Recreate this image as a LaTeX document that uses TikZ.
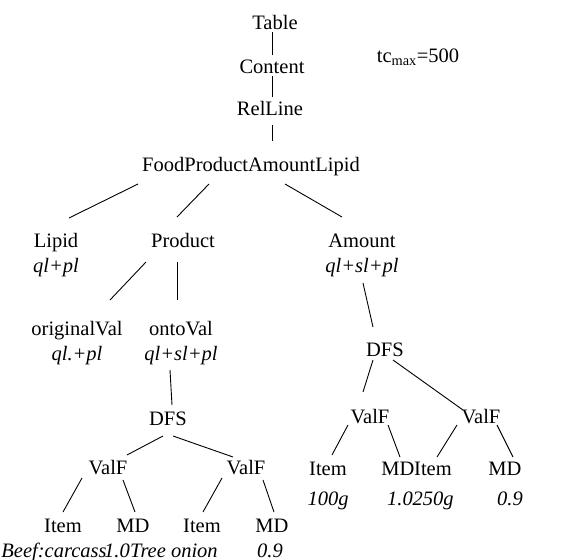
\documentclass[tikz,border=0pt]{standalone}
\usepackage{fontspec}
\setmainfont{Liberation Serif}
\usepackage{tikz}

\tikzset{
    lbl/.style={inner sep=0pt, anchor=base, font=\fontsize{20.5}{24}\selectfont},
    ann/.style={lbl, font=\fontsize{20.5}{24}\selectfont\itshape},
    edge/.style={line width=0.9pt}
}

\begin{document}
\begin{tikzpicture}[x=1pt,y=-1pt]
    \useasboundingbox (0,0) rectangle (582,560);
    % upper part of the tree
    \node[lbl] (table) at (275,29) {Table};
    \node[lbl] (content) at (272,73) {Content};
    \node[lbl] (relline) at (270,115) {RelLine};
    \node[lbl] (tc) at (418,62) {tc\textsubscript{max}=500};
    \node[lbl] (fpal) at (251,171) {FoodProductAmountLipid};
    \node[lbl] (lipid) at (56,247) {Lipid};
    \node[ann] (lipidq) at (56,272) {ql+pl};
    \node[lbl] (product) at (183,247) {Product};
    \node[lbl] (amount) at (362,247) {Amount};
    \node[ann] (amountq) at (362,272) {ql+sl+pl};
    \node[lbl] (orig) at (77,335) {originalVal};
    \node[ann] (origq) at (77,360) {ql.+pl};
    \node[lbl] (onto) at (181,335) {ontoVal};
    \node[ann] (ontoq) at (181,360) {ql+sl+pl};

    \draw[edge] ([shift={(-3,3)}]table.base) -- ([shift={(0,-18)}]content.base);
    \draw[edge] ([shift={(0,3)}]content.base) -- ([shift={(2,-18)}]relline.base);
    \draw[edge] ([shift={(2,10)}]relline.base) -- ([shift={(21,-30)}]fpal.base);
    \draw[edge] ([shift={(-113,13)}]fpal.base) -- ([shift={(13,-29)}]lipid.base);
    \draw[edge] ([shift={(-42,13)}]fpal.base) -- ([shift={(-6,-30)}]product.base);
    \draw[edge] ([shift={(34,13)}]fpal.base) -- ([shift={(-20,-30)}]amount.base);
    \draw[edge] ([shift={(-37,15)}]product.base) -- ([shift={(33,-35)}]orig.base);
    \draw[edge] ([shift={(-6,15)}]product.base) -- ([shift={(-4,-35)}]onto.base);

    % left subtree (ontoVal)
    \node[lbl] (dfsL) at (168,425) {DFS};
    \node[lbl] (valL1) at (108,474) {ValF};
    \node[lbl] (valL2) at (246,474) {ValF};
    \node[lbl] (itemL1) at (63,532) {Item};
    \node[lbl] (mdL1) at (133,532) {MD};
    \node[lbl] (itemL2) at (202,532) {Item};
    \node[lbl] (mdL2) at (272,532) {MD};
    \node[ann] (beef) at (54,557) {Beef:carcass};
    \node[ann] (wL1) at (117,557) {1.0};
    \node[ann] (onion) at (174,557) {Tree onion};
    \node[ann] (wL2) at (270,557) {0.9};

    \draw[edge] ([shift={(-11,10)}]ontoq.base) -- ([shift={(4,-20)}]dfsL.base);
    \draw[edge] ([shift={(-5,11)}]dfsL.base) -- ([shift={(19,-19)}]valL1.base);
    \draw[edge] ([shift={(5,11)}]dfsL.base) -- ([shift={(-13,-17)}]valL2.base);
    \draw[edge] ([shift={(-26,4)}]valL1.base) -- ([shift={(0,-20)}]itemL1.base);
    \draw[edge] ([shift={(15,6)}]valL1.base) -- ([shift={(2,-20)}]mdL1.base);
    \draw[edge] ([shift={(-24,4)}]valL2.base) -- ([shift={(1,-20)}]itemL2.base);
    \draw[edge] ([shift={(17,6)}]valL2.base) -- ([shift={(2,-20)}]mdL2.base);

    % right subtree (Amount)
    \node[lbl] (dfsR) at (385,356) {DFS};
    \node[lbl] (valR1) at (370,423) {ValF};
    \node[lbl] (valR2) at (481,423) {ValF};
    \node[lbl] (itemR1) at (328,475) {Item};
    \node[lbl] (mdR1) at (398,475) {MD};
    \node[lbl] (itemR2) at (433,475) {Item};
    \node[lbl] (mdR2) at (505,475) {MD};
    \node[ann] (g100) at (328,505) {100g};
    \node[ann] (wR1) at (400,505) {1.0};
    \node[ann] (g250) at (433,505) {250g};
    \node[ann] (wR2) at (510,505) {0.9};

    \draw[edge] ([shift={(1,11)}]amountq.base) -- ([shift={(-12,-29)}]dfsR.base);
    \draw[edge] ([shift={(-12,4)}]dfsR.base) -- ([shift={(-7,-31)}]valR1.base);
    \draw[edge] ([shift={(8,4)}]dfsR.base) -- ([shift={(-18,-13)}]valR2.base);
    \draw[edge] ([shift={(-22,2)}]valR1.base) -- ([shift={(4,-20)}]itemR1.base);
    \draw[edge] ([shift={(18,2)}]valR1.base) -- ([shift={(2,-18)}]mdR1.base);
    \draw[edge] ([shift={(-24,2)}]valR2.base) -- ([shift={(4,-18)}]itemR2.base);
    \draw[edge] ([shift={(16,2)}]valR2.base) -- ([shift={(8,-18)}]mdR2.base);
\end{tikzpicture}
\end{document}
